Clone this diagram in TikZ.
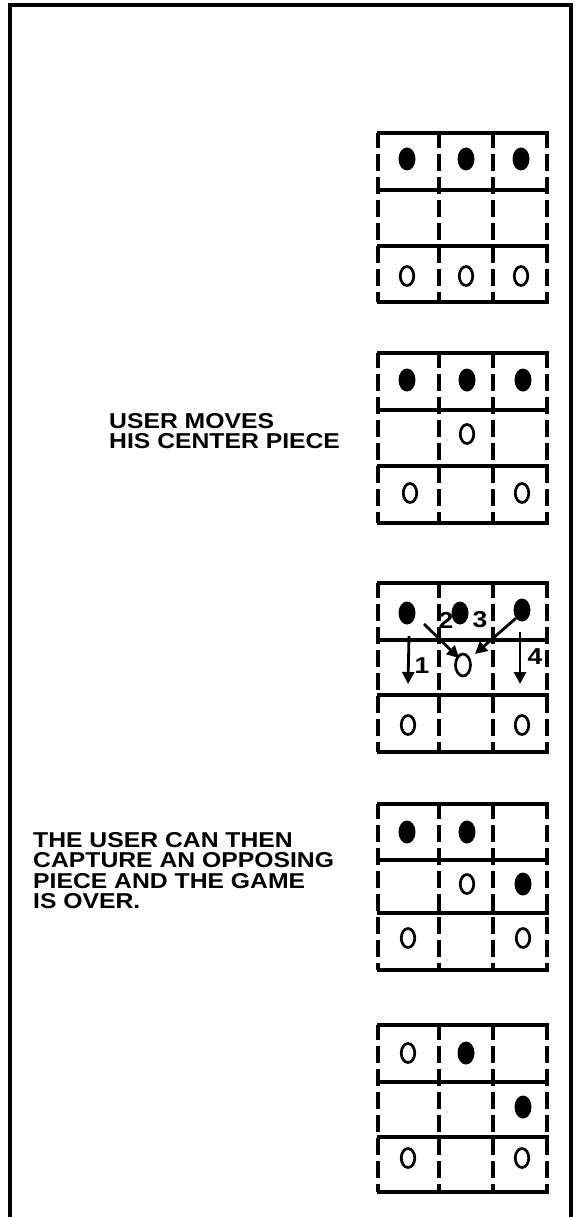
\documentclass[tikz,border=0pt]{standalone}
\usepackage{fontspec}
\newfontfamily\lab{Liberation Sans}[FakeStretch=1.15]
\usetikzlibrary{arrows.meta,shapes.geometric}
\tikzset{
  frameline/.style={line width=3.4pt},
  hline/.style={line width=3.4pt},
  vline/.style={line width=3.4pt, dash pattern=on 17pt off 6pt, dash phase=2pt},
  bp/.style={ellipse, fill=black, minimum width=17pt, minimum height=23pt, inner sep=0pt},
  wp/.style={ellipse, draw, line width=2.7pt, minimum width=13.5pt, minimum height=19pt, inner sep=0pt},
  wpbig/.style={wp, minimum width=15pt, minimum height=22pt},
  caption/.style={font=\lab\bfseries\fontsize{21.5}{20.5}\selectfont, align=left, inner sep=0pt, anchor=north west},
  num/.style={font=\lab\bfseries\fontsize{23}{23}\selectfont, inner sep=0pt},
  mvarrow/.style={line width=2.8pt, -{Triangle[length=12pt,width=12pt]}}
}
\newcommand\myboard[4]{%
  \draw[hline] (377,#1) -- (549,#1);
  \draw[hline] (377,#2) -- (549,#2);
  \draw[hline] (377,#3) -- (549,#3);
  \draw[hline] (377,#4) -- (549,#4);
  \foreach \xx in {378,439,493,547} {\draw[vline] (\xx,#1) -- (\xx,#4);}
}
\begin{document}
\begin{tikzpicture}[x=1pt,y=-1pt]
\useasboundingbox (0,0) rectangle (576,1217);
\fill[white] (0,0) rectangle (576,1217);
\draw[frameline] (10,1217) -- (10,5) -- (571,5) -- (571,1217);

% board 1
\myboard{133}{190}{246}{302}
\node[bp] (b1a) at (407,159) {};
\node[bp] (b1b) at (466,159) {};
\node[bp] (b1c) at (521,159) {};
\node[wp] (b1d) at (407,276) {};
\node[wp] (b1e) at (466,276) {};
\node[wp] (b1f) at (521,276) {};

% board 2
\myboard{353}{410}{466}{523}
\node[bp] (b2a) at (407,380) {};
\node[bp] (b2b) at (467,380) {};
\node[bp] (b2c) at (523,380) {};
\node[wp] (b2d) at (467,434) {};
\node[wp] (b2e) at (410,493) {};
\node[wp] (b2f) at (522,493) {};
\node[caption] (t1) at (109,413) {USER MOVES\\HIS CENTER PIECE};

% board 3
\myboard{583}{640}{695}{752}
\node[bp] (b3a) at (407,613) {};
\node[bp] (b3b) at (460,613) {};
\node[bp] (b3c) at (522,610) {};
\node[wpbig] (b3d) at (463,665) {};
\node[wp] (b3e) at (408,725) {};
\node[wp] (b3f) at (522,725) {};
\coordinate (e1) at (408,684);
\coordinate (e4) at (520,684);
\coordinate (s2) at (424,624);
\coordinate (e2) at (459,658);
\coordinate (e3) at (475,654);
\draw[mvarrow] (409,636) -- (e1);
\draw[mvarrow] (520,632) -- (e4);
\draw[mvarrow] (s2) -- (e2);
\draw[mvarrow] (b3c.south west) -- (e3);
\node[num] (n1) at (422,666) {1};
\node[num] (n2) at (446,620) {2};
\node[num] (n3) at (480,620) {3};
\node[num] (n4) at (535,657) {4};

% board 4
\myboard{804}{860}{913}{970}
\node[bp] (b4a) at (407,832) {};
\node[bp] (b4b) at (467,832) {};
\node[wp] (b4c) at (467,884) {};
\node[bp] (b4d) at (523,884) {};
\node[wp] (b4e) at (408,938) {};
\node[wp] (b4f) at (523,938) {};
\node[caption] (t2) at (33,832) {THE USER CAN THEN\\CAPTURE AN OPPOSING\\PIECE AND THE GAME\\IS OVER.};

% board 5
\myboard{1025}{1082}{1137}{1192}
\node[wp] (b5a) at (408,1053) {};
\node[bp] (b5b) at (466,1053) {};
\node[bp] (b5c) at (523,1107) {};
\node[wp] (b5d) at (408,1158) {};
\node[wp] (b5e) at (522,1158) {};
\end{tikzpicture}
\end{document}
